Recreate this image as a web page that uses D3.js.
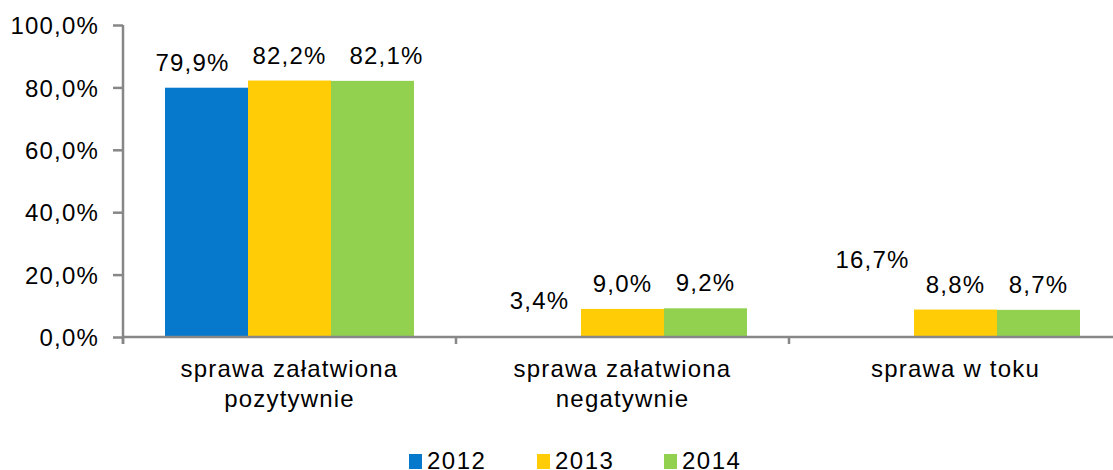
<!DOCTYPE html>
<html>
<head>
<meta charset="utf-8">
<script src="https://cdn.jsdelivr.net/npm/d3@7"></script>
<style>
  body { margin: 0; background: #fff; }
  text { font-family: "Liberation Sans", Arial, sans-serif; fill: #000; }
</style>
</head>
<body>
<div id="chart"></div>
<script>
var categories = [["sprawa załatwiona", "pozytywnie"], ["sprawa załatwiona", "negatywnie"], ["sprawa w toku"]];
var years = ["2012", "2013", "2014"];
var v2012 = [79.9, 3.4, 16.7];
var v2013 = [82.2, 9.0, 8.8];
var v2014 = [82.1, 9.2, 8.7];
var yTicks = [0, 20, 40, 60, 80, 100];

var colors = ["#0779cc", "#ffcc05", "#92d050"];
var series = [v2012, v2013, v2014];
// the 2012 bars of the last two groups are not painted in the original
var painted = [[true, true, true], [false, true, true], [false, true, true]];

var width = 1113, height = 470;
var svg = d3.select("#chart").append("svg")
    .attr("width", width)
    .attr("height", height);

var plotLeft = 123, plotBottom = 337, plotTop = 25;

var x = d3.scaleBand()
    .domain(d3.range(categories.length))
    .range([plotLeft, plotLeft + 3 * 333]);

var xs = d3.scaleBand()
    .domain(d3.range(years.length))
    .range([0, x.bandwidth()])
    .paddingOuter(0.506);

var y = d3.scaleLinear().domain([0, 100]).range([plotBottom, plotTop]);

var fmt = function(v) { return d3.format(".1f")(v).replace(".", ","); };

// bars
var rows = [];
categories.forEach(function(c, ci) {
  series.forEach(function(s, si) {
    rows.push({ci: ci, si: si, v: s[ci]});
  });
});

svg.selectAll("rect.bar")
    .data(rows)
  .enter().append("rect")
    .attr("class", "bar")
    .attr("x", function(d) { return x(d.ci) + xs(d.si); })
    .attr("y", function(d) { return y(d.v); })
    .attr("width", xs.bandwidth())
    .attr("height", function(d) { return plotBottom - y(d.v); })
    .attr("fill", function(d) { return colors[d.si]; })
    .attr("fill-opacity", function(d) { return painted[d.ci][d.si] ? 1 : 0; });

// value labels (first group spread out a bit like the original)
svg.selectAll("text.val")
    .data(rows)
  .enter().append("text")
    .attr("class", "val")
    .attr("x", function(d) {
      var nudge = d.ci === 0 ? (d.si - 1) * 14 : 0;
      return x(d.ci) + xs(d.si) + xs.bandwidth() / 2 + nudge;
    })
    .attr("y", function(d) { return y(d.v) - 17; })
    .attr("text-anchor", "middle")
    .attr("font-size", "24px")
    .attr("letter-spacing", "1.2px")
    .text(function(d) { return fmt(d.v) + "%"; });

// y axis
var yAxis = d3.axisLeft(y)
    .tickValues(yTicks)
    .tickSize(10)
    .tickPadding(14)
    .tickFormat(function(d) { return fmt(d) + "%"; });

var gy = svg.append("g")
    .attr("transform", "translate(" + plotLeft + ",0)")
    .call(yAxis);
gy.select(".domain").attr("stroke", "#878787").attr("stroke-width", 2.5)
    .attr("d", "M0," + plotTop + "V" + (plotBottom + 7));
gy.selectAll(".tick line").attr("stroke", "#878787").attr("stroke-width", 2.5);
gy.selectAll(".tick text")
    .attr("font-size", "24px")
    .attr("letter-spacing", "1.2px")
    .attr("font-family", "Liberation Sans, Arial, sans-serif")
    .attr("fill", "#000")
    .attr("dy", "0.36em");

// x axis
svg.append("line")
    .attr("x1", plotLeft).attr("x2", width)
    .attr("y1", plotBottom).attr("y2", plotBottom)
    .attr("stroke", "#878787").attr("stroke-width", 2.5);

svg.selectAll("line.xtick")
    .data(d3.range(categories.length + 1))
  .enter().append("line")
    .attr("class", "xtick")
    .attr("x1", function(d) { return plotLeft + d * x.step(); })
    .attr("x2", function(d) { return plotLeft + d * x.step(); })
    .attr("y1", plotBottom).attr("y2", plotBottom + 7)
    .attr("stroke", "#878787").attr("stroke-width", 2.5);

var cat = svg.selectAll("text.cat")
    .data(categories)
  .enter().append("text")
    .attr("class", "cat")
    .attr("text-anchor", "middle")
    .attr("font-size", "24px")
    .attr("letter-spacing", "1.2px")
    .attr("transform", function(d, i) { return "translate(" + (x(i) + x.bandwidth() / 2) + ",377)"; });

cat.selectAll("tspan")
    .data(function(d) { return d; })
  .enter().append("tspan")
    .attr("x", 0)
    .attr("dy", function(d, i) { return i === 0 ? 0 : 30; })
    .text(function(d) { return d; });

// legend
var legendX = [409, 537, 664];
var lg = svg.selectAll("g.legend")
    .data(years)
  .enter().append("g")
    .attr("class", "legend")
    .attr("transform", function(d, i) { return "translate(" + legendX[i] + ",0)"; });

lg.append("rect")
    .attr("x", 0).attr("y", 454)
    .attr("width", 13).attr("height", 15)
    .attr("fill", function(d, i) { return colors[i]; });

lg.append("text")
    .attr("x", 18).attr("y", 469)
    .attr("font-size", "24px")
    .attr("letter-spacing", "1.5px")
    .text(function(d) { return d; });
</script>
</body>
</html>
